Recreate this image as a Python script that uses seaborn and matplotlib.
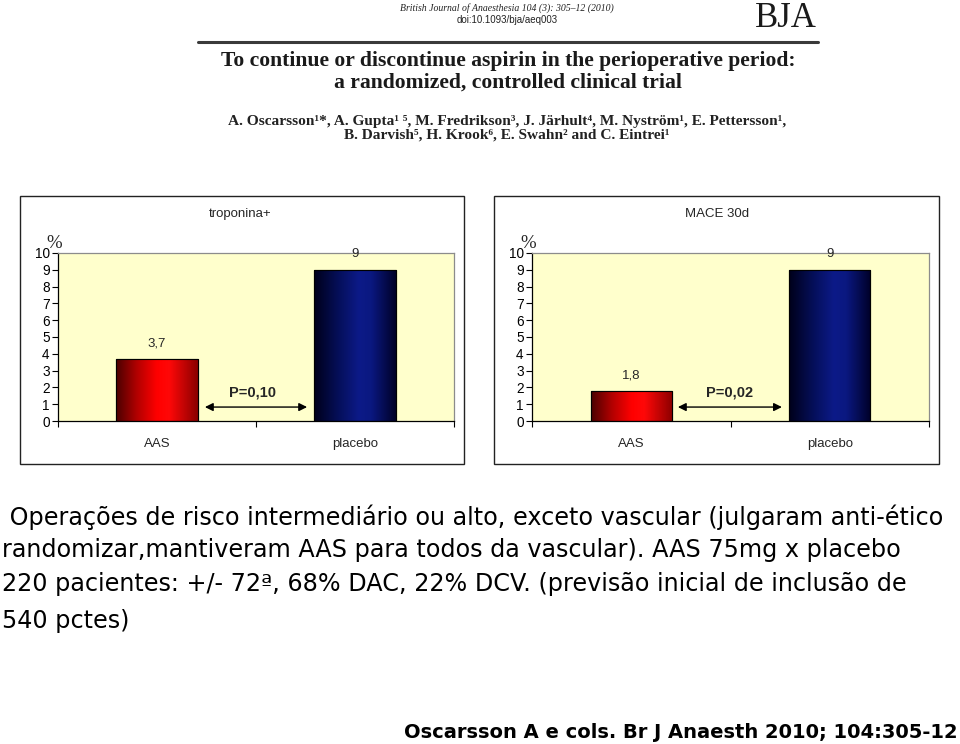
import numpy as np
import pandas as pd
import matplotlib
matplotlib.use("Agg")
import matplotlib.pyplot as plt
import seaborn as sns
from matplotlib.patches import Rectangle
from matplotlib.lines import Line2D
from matplotlib.colors import LinearSegmentedColormap

# ---------------- data ----------------
categories = ["AAS", "placebo"]
troponina_values = [3.7, 9]
mace_values = [1.8, 9]
troponina_labels = ["3,7", "9"]
mace_labels = ["1,8", "9"]
panel_titles = ["troponina+", "MACE 30d"]
p_texts = ["P=0,10", "P=0,02"]
y_ticks = list(range(0, 11))

journal_line = "British Journal of Anaesthesia 104 (3): 305\u201312 (2010)"
doi_line = "doi:10.1093/bja/aeq003"
paper_title = ["To continue or discontinue aspirin in the perioperative period:",
               "a randomized, controlled clinical trial"]
authors = ["A. Oscarsson\u00b9*, A. Gupta\u00b9 \u2075, M. Fredrikson\u00b3, J. J\u00e4rhult\u2074, M. Nystr\u00f6m\u00b9, E. Pettersson\u00b9,",
           "B. Darvish\u2075, H. Krook\u2076, E. Swahn\u00b2 and C. Eintrei\u00b9"]
body_lines = [" Opera\u00e7\u00f5es de risco intermedi\u00e1rio ou alto, exceto vascular (julgaram anti-\u00e9tico",
              "randomizar,mantiveram AAS para todos da vascular). AAS 75mg x placebo",
              "220 pacientes: +/- 72\u00aa, 68% DAC, 22% DCV. (previs\u00e3o inicial de inclus\u00e3o de",
              "540 pctes)"]
citation = "Oscarsson A e cols. Br J Anaesth 2010; 104:305-12"

# ---------------- figure ----------------
sns.set_theme(style="white")
plt.rcParams['font.family'] = ['Liberation Sans', 'DejaVu Sans']

W, H = 960, 744
fig = plt.figure(figsize=(9.6, 7.44), dpi=100)
fig.patch.set_facecolor("white")


def fx(x):
    return x / W


def fy(y):
    return 1 - y / H


def rect(x0, y0, x1, y1):
    return [x0 / W, 1 - y1 / H, (x1 - x0) / W, (y1 - y0) / H]


red_cmap = LinearSegmentedColormap.from_list(
    "redbar", [(0, "#4a0000"), (0.25, "#b00000"), (0.5, "#ff0000"), (0.65, "#ff0808"), (1, "#8a0000")])
blue_cmap = LinearSegmentedColormap.from_list(
    "bluebar", [(0, "#00001a"), (0.3, "#050f5a"), (0.55, "#0c1a88"), (0.7, "#0a1880"), (1, "#000028")])

panels = [
    dict(values=troponina_values, labels=troponina_labels, title=panel_titles[0], p=p_texts[0],
         box=(20, 196, 464, 464), ax=(58, 253, 454, 421), title_x=240, arrow=(0.242, 0.758), p_x=0.48),
    dict(values=mace_values, labels=mace_labels, title=panel_titles[1], p=p_texts[1],
         box=(494, 196, 939, 464), ax=(532, 253, 929, 421), title_x=717, arrow=(0.235, 0.759), p_x=0.497),
]

for pn in panels:
    bx0, by0, bx1, by1 = pn["box"]
    fig.patches.append(Rectangle((fx(bx0), fy(by1)), (bx1 - bx0) / W, (by1 - by0) / H,
                                 transform=fig.transFigure, fill=False, edgecolor="#222222",
                                 linewidth=1.0, zorder=0))
    fig.text(fx(pn["title_x"]), fy(214), pn["title"], ha="center", va="center", fontsize=9.5)

    ax = fig.add_axes(rect(*pn["ax"]))
    df = pd.DataFrame({"cat": categories, "val": pn["values"]})
    sns.barplot(data=df, x="cat", y="val", ax=ax, width=0.41, color="#cc0000",
                edgecolor="black", linewidth=0.8, saturation=1)
    ax.set_facecolor("#ffffcc")
    ax.set_xlim(-0.5, 1.5)
    ax.set_ylim(0, 10)

    for i, patch in enumerate(ax.patches):
        x, y = patch.get_x(), patch.get_y()
        w, h = patch.get_width(), patch.get_height()
        grad = np.linspace(0, 1, 256).reshape(1, -1)
        cmap = red_cmap if i == 0 else blue_cmap
        im = ax.imshow(grad, extent=[x, x + w, y, y + h], aspect="auto", cmap=cmap,
                       origin="lower", zorder=patch.get_zorder() + 0.1, interpolation="bicubic")
        im.set_clip_path(patch)
        edge = Rectangle((x, y), w, h, fill=False, edgecolor="black", linewidth=0.8,
                         zorder=patch.get_zorder() + 0.2)
        ax.add_patch(edge)
    ax.set_xlim(-0.5, 1.5)
    ax.set_ylim(0, 10)

    for i, (v, lab) in enumerate(zip(pn["values"], pn["labels"])):
        ax.annotate(lab, xy=(i, v), xytext=(0, 7), textcoords="offset points",
                    ha="center", va="bottom", fontsize=9.5)

    # p-value double arrow
    a0, a1 = pn["arrow"]
    ax.annotate("", xy=(a0, 0.83), xytext=(a1, 0.83),
                arrowprops=dict(arrowstyle="<|-|>", color="black", lw=1.0,
                                mutation_scale=12, shrinkA=0, shrinkB=0))
    ax.text(pn["p_x"], 1.68, pn["p"], ha="center", va="center", fontsize=10.5, fontweight="bold")

    # axes styling
    ax.set_xlabel("")
    ax.set_ylabel("")
    ax.set_yticks(y_ticks)
    ax.set_yticklabels([str(t) for t in y_ticks])
    ax.set_xticks([0, 1])
    ax.set_xticklabels(categories)
    ax.set_xticks([-0.5, 0.5, 1.5], minor=True)
    ax.tick_params(axis="y", which="major", direction="out", length=4, width=0.8,
                   left=True, labelsize=9.8, pad=2, colors="black")
    ax.tick_params(axis="x", which="major", length=0, labelsize=9.5, pad=12)
    ax.tick_params(axis="x", which="minor", direction="out", length=4, width=0.8,
                   bottom=True, color="black")
    for side in ["left", "bottom"]:
        ax.spines[side].set_color("black")
        ax.spines[side].set_linewidth(0.9)
    for side in ["top", "right"]:
        ax.spines[side].set_color("#8c8c8c")
        ax.spines[side].set_linewidth(0.9)
    ax.grid(False)

    # "%" symbol above the axis
    fig.text(fx(pn["ax"][0] - 4), fy(243), "%", ha="center", va="center",
             fontsize=13.5, family=["Liberation Serif", "DejaVu Serif"])

# ---------------- header (paper reference) ----------------
fig.text(fx(507), fy(8), journal_line, ha="center", va="center", fontsize=7,
         style="italic", family=["Liberation Serif", "DejaVu Serif"], color="#222222")
fig.text(fx(507), fy(20), doi_line, ha="center", va="center", fontsize=7,
         family=["Liberation Sans", "DejaVu Sans"], color="#222222")
fig.text(fx(786), fy(27), "BJA", ha="center", va="baseline", fontsize=25,
         family=["Liberation Serif", "DejaVu Serif"], color="#1a1a1a")
fig.add_artist(Line2D([fx(198), fx(818)], [fy(42), fy(42)], transform=fig.transFigure,
                      color="#3a3a3a", linewidth=2.2))

renderer = fig.canvas.get_renderer()


def fit_text(x, y, s, target_w, ha="center", **kw):
    t = fig.text(x, y, s, ha=ha, va="center", fontsize=10, **kw)
    w = t.get_window_extent(renderer).width
    t.set_fontsize(10 * target_w / w)
    return t


t1 = fit_text(fx(508), fy(61), paper_title[0], 577, fontweight="bold",
              family=["Liberation Serif", "DejaVu Serif"], color="#1a1a1a")
fs_title = t1.get_fontsize()
fig.text(fx(508), fy(83), paper_title[1], ha="center", va="center", fontsize=fs_title,
         fontweight="bold", family=["Liberation Serif", "DejaVu Serif"], color="#1a1a1a")

a1 = fit_text(fx(507), fy(121), authors[0], 559, fontweight="bold",
              family=["Liberation Serif", "DejaVu Serif"], color="#222222")
fig.text(fx(507), fy(135), authors[1], ha="center", va="center", fontsize=a1.get_fontsize(),
         fontweight="bold", family=["Liberation Serif", "DejaVu Serif"], color="#222222")

# ---------------- body text ----------------
body_y = [517, 550, 584, 621]
b1 = fit_text(fx(2), fy(body_y[0]), body_lines[0], 943, ha="left",
              family=["DejaVu Sans"], color="black")
fs_body = b1.get_fontsize()
for s, yy in zip(body_lines[1:], body_y[1:]):
    fig.text(fx(2), fy(yy), s, ha="left", va="center", fontsize=fs_body,
             family=["DejaVu Sans"], color="black")

fit_text(fx(958), fy(733), citation, 558, ha="right", fontweight="bold",
         family=["DejaVu Sans"], color="black")

fig.savefig("out.png", dpi=100, facecolor="white")
